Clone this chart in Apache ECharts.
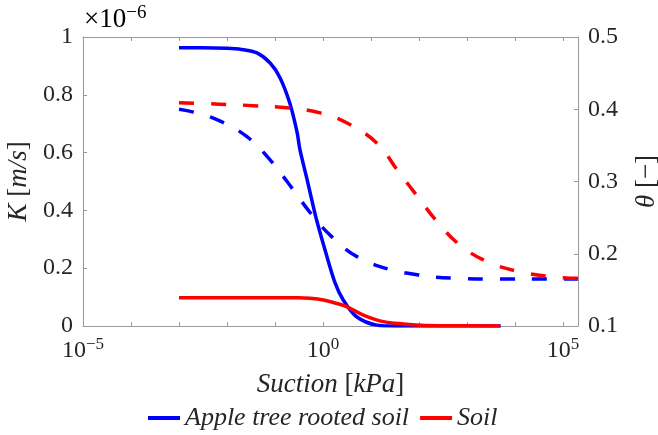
<!DOCTYPE html>
<html>
<head>
<meta charset="utf-8">
<script src="https://cdn.jsdelivr.net/npm/echarts@6/dist/echarts.min.js"></script>
<style>
  html, body { margin: 0; padding: 0; background: #fff; }
  #main { width: 658px; height: 435px; }
</style>
</head>
<body>
<div id="main"></div>
<script>
// suction in kPa, K in 1e-6 m/s, theta in [-]
var appleKSuction = [0.001, 0.003, 0.01, 0.02, 0.042, 0.079, 0.126, 0.204, 0.288, 0.33, 0.468, 0.705, 1.10, 1.78, 2.63, 5.0, 13.2, 31.6, 5000];
var appleK = [0.963, 0.963, 0.961, 0.957, 0.945, 0.91, 0.86, 0.77, 0.67, 0.61, 0.505, 0.378, 0.263, 0.149, 0.09, 0.032, 0.003, 0, 0];
var soilKSuction = [0.001, 0.3, 0.537, 1.01, 1.93, 3.1, 6.9, 18, 47, 105, 400, 4900];
var soilK = [0.098, 0.098, 0.096, 0.09, 0.078, 0.067, 0.038, 0.015, 0.007, 0.003, 0.001, 0];

var appleThetaSuction = [0.001, 0.002, 0.0065, 0.026, 0.079, 0.178, 0.6, 1.55, 5.1, 25, 91, 120, 590, 3000, 54000, 204000];
var appleTheta = [0.400, 0.396, 0.385, 0.362, 0.330, 0.300, 0.253, 0.223, 0.196, 0.178, 0.171, 0.169, 0.166, 0.165, 0.165, 0.165];
var soilThetaSuction = [0.001, 0.007, 0.035, 0.178, 0.87, 3.16, 13.3, 35, 91, 240, 710, 2630, 12600, 62000, 204000];
var soilTheta = [0.409, 0.407, 0.405, 0.402, 0.395, 0.381, 0.353, 0.316, 0.28, 0.244, 0.212, 0.189, 0.175, 0.168, 0.166];

var xLabelExps = [-5, 0, 5];
var legendNames = ['Apple tree rooted soil', 'Soil'];

var FONT = '"Liberation Serif", "Times New Roman", serif';
var AXIS_GREY = '#9a9a9a';
var TEXT = '#262626';

// x axis works on log10(suction)
function toPairs(xs, ys) {
    var out = [];
    for (var i = 0; i < xs.length; i++) {
        out.push([Math.log10(xs[i]), ys[i]]);
    }
    return out;
}

var supRich = {
    b: { fontFamily: FONT, fontSize: 24, color: TEXT },
    sup: { fontFamily: FONT, fontSize: 17, color: TEXT, padding: [0, 0, 12, 0] }
};

function xLabelFmt(v) {
    var r = Math.round(v);
    if (Math.abs(v - r) > 1e-6 || xLabelExps.indexOf(r) < 0) return '';
    return '{b|10}{sup|' + (r < 0 ? '\u2212' + (-r) : r) + '}';
}

var nameStyle = {
    fontFamily: FONT, fontSize: 27, color: TEXT,
    rich: { i: { fontFamily: FONT, fontSize: 27, fontStyle: 'italic', color: TEXT } }
};

var chart = echarts.init(document.getElementById('main'));
var option = {
    animation: false,
    backgroundColor: '#fff',
    grid: { left: 83, right: 80, top: 37, bottom: 109, containLabel: false, outerBoundsMode: 'none' },
    graphic: [{
        type: 'text',
        left: 84,
        top: 4,
        style: {
            text: '{b|\u00d710}{sup|\u22126}',
            rich: {
                b: { fontFamily: FONT, fontSize: 27, color: TEXT },
                sup: { fontFamily: FONT, fontSize: 19, color: TEXT, padding: [0, 0, 13, 0] }
            }
        }
    }],
    legend: {
        data: legendNames,
        left: 148,
        top: 405,
        padding: 0,
        itemGap: 11,
        itemWidth: 32,
        itemHeight: 4,
        icon: 'rect',
        textStyle: { fontFamily: FONT, fontSize: 26, fontStyle: 'italic', color: TEXT }
    },
    xAxis: [{
        type: 'value',
        min: -5,
        max: 5.31,
        interval: 1,
        position: 'bottom',
        name: '{i|Suction} [{i|kPa}]',
        nameLocation: 'middle',
        nameGap: 45,
        nameTextStyle: nameStyle,
        axisLine: { onZero: false, lineStyle: { color: AXIS_GREY, width: 1 } },
        axisTick: { inside: true, length: 4, lineStyle: { color: AXIS_GREY } },
        axisLabel: { formatter: xLabelFmt, rich: supRich, margin: 10, showMaxLabel: false },
        splitLine: { show: false }
    }, {
        type: 'value',
        min: -5,
        max: 5.31,
        interval: 1,
        position: 'top',
        axisLine: { onZero: false, lineStyle: { color: AXIS_GREY, width: 1 } },
        axisTick: { inside: true, length: 4, lineStyle: { color: AXIS_GREY } },
        axisLabel: { show: false },
        splitLine: { show: false }
    }],
    yAxis: [{
        type: 'value',
        min: 0,
        max: 1,
        interval: 0.2,
        position: 'left',
        name: '{i|K} [{i|m/s}]',
        nameLocation: 'middle',
        nameRotate: 90,
        nameGap: 50,
        nameTextStyle: nameStyle,
        axisLine: { show: true, onZero: false, lineStyle: { color: AXIS_GREY, width: 1 } },
        axisTick: { show: true, inside: true, length: 4, lineStyle: { color: AXIS_GREY } },
        axisLabel: { fontFamily: FONT, fontSize: 24, color: TEXT, margin: 10 },
        splitLine: { show: false }
    }, {
        type: 'value',
        min: 0.1,
        max: 0.5,
        interval: 0.1,
        position: 'right',
        name: '{i|\u03b8} [\u2212]',
        nameLocation: 'middle',
        nameRotate: 90,
        nameGap: 55,
        nameTextStyle: nameStyle,
        axisLine: { show: true, onZero: false, lineStyle: { color: AXIS_GREY, width: 1 } },
        axisTick: { show: true, inside: true, length: 4, lineStyle: { color: AXIS_GREY } },
        axisLabel: { fontFamily: FONT, fontSize: 24, color: TEXT, margin: 10 },
        splitLine: { show: false }
    }],
    series: [{
        name: legendNames[0],
        type: 'line',
        xAxisIndex: 0, yAxisIndex: 0,
        data: toPairs(appleKSuction, appleK),
        showSymbol: false, symbol: 'none',
        smooth: 0.3,
        color: '#0000ff',
        lineStyle: { color: '#0000ff', width: 3.5 },
        z: 3
    }, {
        name: legendNames[1],
        type: 'line',
        xAxisIndex: 0, yAxisIndex: 0,
        data: toPairs(soilKSuction, soilK),
        showSymbol: false, symbol: 'none',
        smooth: 0.3,
        color: '#ff0000',
        lineStyle: { color: '#ff0000', width: 3.5 },
        z: 4
    }, {
        name: legendNames[0],
        type: 'line',
        xAxisIndex: 0, yAxisIndex: 1,
        data: toPairs(appleThetaSuction, appleTheta),
        showSymbol: false, symbol: 'none',
        smooth: 0.4,
        color: '#0000ff',
        lineStyle: { color: '#0000ff', width: 3.5, type: [15, 17] },
        z: 3
    }, {
        name: legendNames[1],
        type: 'line',
        xAxisIndex: 0, yAxisIndex: 1,
        data: toPairs(soilThetaSuction, soilTheta),
        showSymbol: false, symbol: 'none',
        smooth: 0.4,
        color: '#ff0000',
        lineStyle: { color: '#ff0000', width: 3.5, type: [15, 17] },
        z: 4
    }]
};
chart.setOption(option);
</script>
</body>
</html>
